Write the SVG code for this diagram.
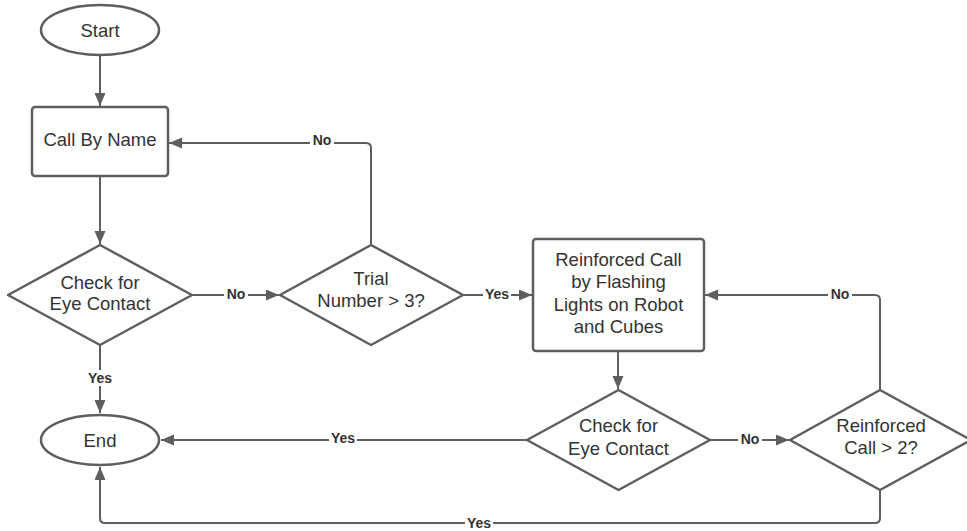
<svg xmlns="http://www.w3.org/2000/svg" width="967" height="531" viewBox="0 0 967 531">
  <defs>
    <marker id="arrow" markerUnits="userSpaceOnUse" markerWidth="14" markerHeight="12" refX="13" refY="5.5" orient="auto">
      <path d="M0,0 L13,5.5 L0,11 z" fill="#5e5e5e"/>
    </marker>
    <style>
      .shape { fill: #ffffff; stroke: #5e5e5e; stroke-width: 2.5; }
      .txt { font-family: "Liberation Sans", Arial, sans-serif; font-size: 18.5px; fill: #333333; text-anchor: middle; }
      .edge { fill: none; stroke: #5e5e5e; stroke-width: 2; }
      .lbl { font-family: "Liberation Sans", Arial, sans-serif; font-size: 14px; font-weight: bold; fill: #333333; text-anchor: middle; }
      .lblbg { fill: #ffffff; }
    </style>
  </defs>
  <rect width="967" height="531" fill="#ffffff"/>

  <!-- connectors -->
  <g id="connectors">
    <path class="edge" d="M100,56 L100,106" marker-end="url(#arrow)"/>
    <path class="edge" d="M100,176 L100,244" marker-end="url(#arrow)"/>
    <path class="edge" d="M192,295 L279,295" marker-end="url(#arrow)"/>
    <path class="edge" d="M371,245 L371,148 Q371,143 366,143 L169,143" marker-end="url(#arrow)"/>
    <path class="edge" d="M100,345 L100,413" marker-end="url(#arrow)"/>
    <path class="edge" d="M463,295 L532,295" marker-end="url(#arrow)"/>
    <path class="edge" d="M618,351 L618,389" marker-end="url(#arrow)"/>
    <path class="edge" d="M710,440 L789,440" marker-end="url(#arrow)"/>
    <path class="edge" d="M880,390 L880,300 Q880,295 875,295 L705,295" marker-end="url(#arrow)"/>
    <path class="edge" d="M527,440 L161,440" marker-end="url(#arrow)"/>
    <path class="edge" d="M880,490 L880,518 Q880,523 875,523 L105,523 Q100,523 100,518 L100,467" marker-end="url(#arrow)"/>

    <!-- edge labels -->
    <rect class="lblbg" x="310" y="133" width="24" height="16"/>
    <text class="lbl" x="322" y="145">No</text>
    <rect class="lblbg" x="224" y="287" width="24" height="16"/>
    <text class="lbl" x="236" y="299">No</text>
    <rect class="lblbg" x="86" y="370" width="28" height="16"/>
    <text class="lbl" x="100" y="383">Yes</text>
    <rect class="lblbg" x="483" y="287" width="28" height="16"/>
    <text class="lbl" x="497" y="299">Yes</text>
    <rect class="lblbg" x="738" y="432" width="24" height="16"/>
    <text class="lbl" x="750" y="444">No</text>
    <rect class="lblbg" x="828" y="287" width="24" height="16"/>
    <text class="lbl" x="840" y="299">No</text>
    <rect class="lblbg" x="329" y="431" width="28" height="16"/>
    <text class="lbl" x="343" y="443">Yes</text>
    <rect class="lblbg" x="465" y="515" width="28" height="16"/>
    <text class="lbl" x="479" y="528">Yes</text>
  </g>

  <!-- nodes -->
  <g id="start">
    <ellipse class="shape" cx="100" cy="30" rx="59" ry="25"/>
    <text class="txt" x="100" y="36.5">Start</text>
  </g>

  <g id="call-by-name">
    <rect class="shape" x="32" y="107" width="136" height="69" rx="3"/>
    <text class="txt" x="100" y="146">Call By Name</text>
  </g>

  <g id="check-eye-contact-1">
    <path class="shape" d="M100,245 L192,295 L100,345 L8,295 Z" stroke-linejoin="round"/>
    <text class="txt" x="100" y="288.5">Check for</text>
    <text class="txt" x="100" y="309.5">Eye Contact</text>
  </g>

  <g id="trial-number">
    <path class="shape" d="M371,245 L463,295 L371,345 L280,295 Z" stroke-linejoin="round"/>
    <text class="txt" x="371" y="284.5">Trial</text>
    <text class="txt" x="371" y="307">Number &gt; 3?</text>
  </g>

  <g id="end">
    <ellipse class="shape" cx="100" cy="440" rx="59" ry="25"/>
    <text class="txt" x="100" y="446.5">End</text>
  </g>

  <g id="reinforced-call">
    <rect class="shape" x="533" y="239" width="171" height="112" rx="3"/>
    <text class="txt" x="618.5" y="265.5">Reinforced Call</text>
    <text class="txt" x="618.5" y="288">by Flashing</text>
    <text class="txt" x="618.5" y="310.5">Lights on Robot</text>
    <text class="txt" x="618.5" y="333">and Cubes</text>
  </g>

  <g id="check-eye-contact-2">
    <path class="shape" d="M618.5,390 L710,440 L618.5,490 L527,440 Z" stroke-linejoin="round"/>
    <text class="txt" x="618.5" y="432">Check for</text>
    <text class="txt" x="618.5" y="454.5">Eye Contact</text>
  </g>

  <g id="reinforced-count">
    <path class="shape" d="M880,390 L971,440 L880,490 L790,440 Z" stroke-linejoin="round"/>
    <text class="txt" x="881" y="431.5">Reinforced</text>
    <text class="txt" x="881" y="454">Call &gt; 2?</text>
  </g>
</svg>
